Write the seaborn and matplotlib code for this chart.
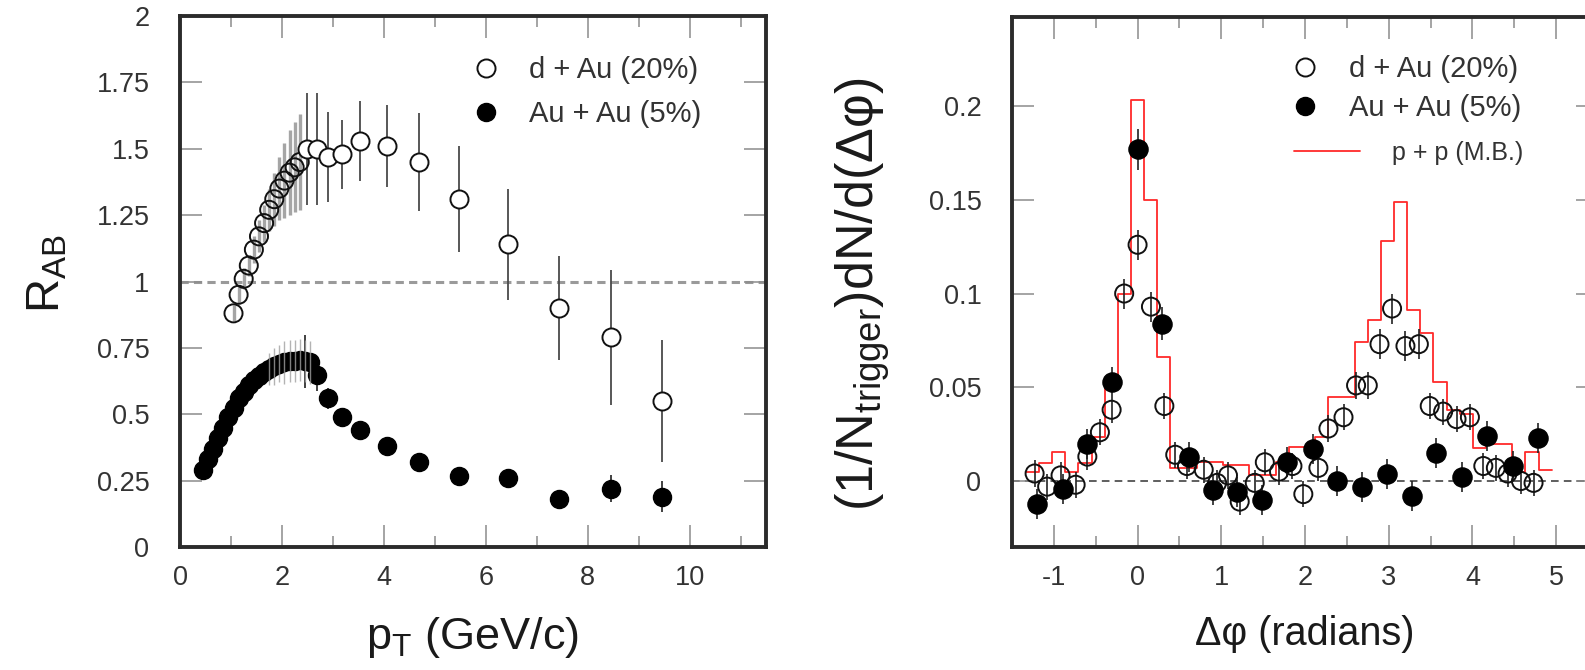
import numpy as np
import matplotlib
matplotlib.use("Agg")
import matplotlib.pyplot as plt
import seaborn as sns
from matplotlib.lines import Line2D
from matplotlib.ticker import MultipleLocator, FuncFormatter

# ---------------- left panel: R_AB vs pT ----------------
dau_pt_low = [1.05, 1.15, 1.25, 1.35, 1.45, 1.55, 1.65, 1.75, 1.85, 1.95, 2.05, 2.15, 2.25, 2.35]
dau_r_low = [0.88, 0.95, 1.01, 1.06, 1.12, 1.17, 1.22, 1.27, 1.31, 1.35, 1.38, 1.41, 1.43, 1.45]
dau_sys_low = [0.03, 0.03, 0.04, 0.04, 0.05, 0.06, 0.07, 0.08, 0.10, 0.12, 0.14, 0.16, 0.17, 0.18]

dau_pt_high = [2.50, 2.68, 2.91, 3.17, 3.54, 4.06, 4.70, 5.48, 6.43, 7.44, 8.46, 9.46]
dau_r_high = [1.50, 1.50, 1.47, 1.48, 1.53, 1.51, 1.45, 1.31, 1.14, 0.90, 0.79, 0.55]
dau_err_high = [0.21, 0.21, 0.17, 0.13, 0.15, 0.155, 0.185, 0.20, 0.21, 0.195, 0.255, 0.23]

auau_pt_low = [0.45, 0.55, 0.65, 0.75, 0.85, 0.95, 1.05, 1.15, 1.25, 1.35, 1.45,
               1.55, 1.65, 1.75, 1.85, 1.95, 2.05, 2.15, 2.25, 2.35, 2.45, 2.55]
auau_r_low = [0.29, 0.33, 0.37, 0.41, 0.45, 0.49, 0.525, 0.56, 0.585, 0.61, 0.63,
              0.645, 0.66, 0.67, 0.68, 0.69, 0.695, 0.70, 0.70, 0.705, 0.70, 0.695]
auau_err_low = [0.01, 0.01, 0.01, 0.01, 0.01, 0.01, 0.01, 0.01, 0.01, 0.01, 0.01,
                0.01, 0.01, 0.01, 0.01, 0.01, 0.01, 0.01, 0.01, 0.02, 0.10, 0.03]
auau_sys_low = [0.0, 0.0, 0.0, 0.0, 0.0, 0.0, 0.0, 0.0, 0.0, 0.0, 0.0,
                0.0, 0.0, 0.06, 0.07, 0.07, 0.08, 0.08, 0.08, 0.08, 0.08, 0.08]

auau_pt_high = [2.68, 2.91, 3.17, 3.54, 4.06, 4.70, 5.48, 6.43, 7.44, 8.46, 9.46]
auau_r_high = [0.648, 0.56, 0.49, 0.44, 0.38, 0.32, 0.267, 0.26, 0.18, 0.22, 0.19]
auau_err_high = [0.06, 0.04, 0.03, 0.02, 0.02, 0.02, 0.02, 0.02, 0.02, 0.05, 0.057]

left_yticks = [0, 0.25, 0.5, 0.75, 1, 1.25, 1.5, 1.75, 2]

# ---------------- right panel: dN/d(dphi) ----------------
dau_dphi = [-1.23, -1.08, -0.92, -0.74, -0.60, -0.45, -0.31, -0.16, 0.00, 0.16,
            0.32, 0.45, 0.59, 0.79, 0.95, 1.08, 1.22, 1.40, 1.52, 1.69,
            1.85, 1.98, 2.16, 2.28, 2.46, 2.61, 2.75, 2.89, 3.04, 3.20,
            3.36, 3.49, 3.65, 3.81, 3.97, 4.13, 4.28, 4.42, 4.58, 4.73]
dau_yield = [0.004, -0.003, 0.003, -0.002, 0.013, 0.026, 0.038, 0.100, 0.126, 0.093,
             0.040, 0.014, 0.008, 0.006, -0.001, 0.003, -0.011, -0.001, 0.010, 0.005,
             0.008, -0.007, 0.007, 0.028, 0.034, 0.051, 0.051, 0.073, 0.092, 0.072,
             0.073, 0.040, 0.037, 0.033, 0.034, 0.008, 0.007, 0.004, 0.000, -0.001]
dau_yerr = [0.007, 0.007, 0.007, 0.007, 0.007, 0.007, 0.007, 0.008, 0.008, 0.008,
            0.007, 0.007, 0.007, 0.007, 0.007, 0.007, 0.007, 0.007, 0.007, 0.007,
            0.007, 0.007, 0.007, 0.007, 0.007, 0.007, 0.007, 0.008, 0.008, 0.008,
            0.008, 0.007, 0.007, 0.007, 0.007, 0.007, 0.007, 0.007, 0.007, 0.007]

auau_dphi = [-1.20, -0.89, -0.60, -0.31, 0.00, 0.29, 0.61, 0.90, 1.19, 1.49, 1.78,
             2.09, 2.38, 2.68, 2.98, 3.28, 3.57, 3.88, 4.18, 4.48, 4.78]
auau_yield = [-0.012, -0.004, 0.020, 0.053, 0.177, 0.084, 0.013, -0.005, -0.006, -0.010, 0.010,
              0.017, 0.000, -0.003, 0.004, -0.008, 0.015, 0.002, 0.024, 0.008, 0.023]
auau_yerr = [0.008, 0.008, 0.008, 0.008, 0.011, 0.009, 0.008, 0.008, 0.008, 0.008, 0.008,
             0.008, 0.008, 0.008, 0.008, 0.008, 0.008, 0.008, 0.008, 0.008, 0.008]

pp_dphi = [-1.257, -1.100, -0.942, -0.785, -0.628, -0.471, -0.314, -0.157, 0.000, 0.157,
           0.314, 0.471, 0.628, 0.785, 0.942, 1.100, 1.257, 1.414, 1.571, 1.728,
           1.885, 2.042, 2.199, 2.356, 2.513, 2.670, 2.827, 2.985, 3.142, 3.299,
           3.456, 3.613, 3.770, 3.927, 4.084, 4.241, 4.398, 4.555, 4.712, 4.869]
pp_yield = [0.005, 0.0098, 0.0156, 0.005, 0.0098, 0.0236, 0.053, 0.100, 0.203, 0.150,
            0.066, 0.0068, 0.0068, 0.0101, 0.0101, 0.0085, 0.0085, 0.0032, 0.0032, 0.0101,
            0.0183, 0.0183, 0.0236, 0.045, 0.045, 0.0743, 0.0859, 0.128, 0.149, 0.091,
            0.079, 0.053, 0.038, 0.036, 0.0176, 0.020, 0.020, 0.005, 0.0156, 0.006]

labels_main = ["d + Au (20%)", "Au + Au (5%)"]
label_pp = "p + p (M.B.)"

# ---------------- style ----------------
sns.set_theme(style="white")
plt.rcParams["font.family"] = ["Liberation Sans", "DejaVu Sans"]
plt.rcParams["mathtext.fontset"] = "custom"
plt.rcParams["mathtext.rm"] = "Liberation Sans"
plt.rcParams["mathtext.it"] = "Liberation Sans:italic"
plt.rcParams["mathtext.bf"] = "Liberation Sans:bold"
plt.rcParams["mathtext.default"] = "regular"
plt.rcParams["axes.unicode_minus"] = False

W, H = 1585, 670
fig = plt.figure(figsize=(W / 100, H / 100), dpi=100)


def px_axes(left, top, right, bottom):
    return fig.add_axes([left / W, 1 - bottom / H, (right - left) / W, (bottom - top) / H])


axL = px_axes(180, 16, 766, 547)
axR = px_axes(1012, 17, 1598, 547)

SPINE = "#2b2b2b"
TICKC = "#8c8c8c"
LABC = "#333333"
TXT = "#1a1a1a"
fmt = FuncFormatter(lambda v, _: f"{v:g}")

# ---------------- left panel ----------------
axL.axhline(1.0, color="#9a9a9a", lw=2.2, ls=(0, (2.7, 1.7)), zorder=0.5)
axL.errorbar(dau_pt_low, dau_r_low, yerr=dau_sys_low, fmt="none", ecolor="#a5a5a5",
             elinewidth=2.4, zorder=1)
axL.errorbar(dau_pt_high, dau_r_high, yerr=dau_err_high, fmt="none", ecolor="#4a4a4a",
             elinewidth=1.3, zorder=1.5)
axL.errorbar(auau_pt_high, auau_r_high, yerr=auau_err_high, fmt="none", ecolor="#333333",
             elinewidth=1.3, zorder=1.5)
axL.errorbar(auau_pt_low, auau_r_low, yerr=auau_err_low, fmt="none", ecolor="#333333",
             elinewidth=1.3, zorder=1.5)

sns.scatterplot(x=dau_pt_low, y=dau_r_low, ax=axL, marker="o", s=169,
                facecolors="none", edgecolor="#111111", linewidth=1.4, zorder=3)
sns.scatterplot(x=dau_pt_high, y=dau_r_high, ax=axL, marker="o", s=169,
                facecolors="white", edgecolor="#111111", linewidth=1.4, zorder=3)
sns.scatterplot(x=auau_pt_low, y=auau_r_low, ax=axL, marker="o", s=169,
                color="black", edgecolor="black", linewidth=1.0, zorder=4)
sns.scatterplot(x=auau_pt_high, y=auau_r_high, ax=axL, marker="o", s=169,
                color="black", edgecolor="black", linewidth=1.0, zorder=4)
axL.errorbar(auau_pt_low, auau_r_low, yerr=auau_sys_low, fmt="none", ecolor="#a0a0a0",
             elinewidth=1.0, zorder=5, alpha=0.8)

axL.set_xlim(0, 11.5)
axL.set_ylim(0, 2)
axL.xaxis.set_major_locator(MultipleLocator(2))
axL.xaxis.set_minor_locator(MultipleLocator(1))
axL.set_yticks(left_yticks)
axL.yaxis.set_major_formatter(fmt)
axL.xaxis.set_major_formatter(fmt)

# ---------------- right panel ----------------
pp_c = np.asarray(pp_dphi)
half = (pp_c[1] - pp_c[0]) / 2
pp_edges = np.concatenate([[pp_c[0] - half], (pp_c[1:] + pp_c[:-1]) / 2, [pp_c[-1] + half]])
pp_edges = [float(e) for e in pp_edges]

axR.axhline(0.0, color="#333333", lw=1.1, ls=(0, (5, 3.4)), zorder=0.5)
sns.histplot(x=pp_dphi, weights=pp_yield, bins=pp_edges, element="step", fill=False,
             color="#ff2a2a", linewidth=1.3, ax=axR, zorder=1)
axR.errorbar(dau_dphi, dau_yield, yerr=dau_yerr, fmt="none", ecolor="#222222",
             elinewidth=1.2, zorder=2)
axR.errorbar(auau_dphi, auau_yield, yerr=auau_yerr, fmt="none", ecolor="#222222",
             elinewidth=1.2, zorder=2)
sns.scatterplot(x=dau_dphi, y=dau_yield, ax=axR, marker="o", s=169,
                facecolors="none", edgecolor="#111111", linewidth=1.4, zorder=3)
sns.scatterplot(x=auau_dphi, y=auau_yield, ax=axR, marker="o", s=190,
                color="black", edgecolor="black", linewidth=1.0, zorder=4)

axR.set_xlim(-1.5, 5.5)
axR.set_ylim(-0.0352, 0.2475)
axR.xaxis.set_major_locator(MultipleLocator(1))
axR.xaxis.set_minor_locator(MultipleLocator(0.5))
axR.yaxis.set_major_locator(MultipleLocator(0.05))
axR.yaxis.set_major_formatter(fmt)
axR.xaxis.set_major_formatter(fmt)

# ---------------- axes styling ----------------
for ax in (axL, axR):
    for s in ax.spines.values():
        s.set_visible(True)
        s.set_linewidth(2.8)
        s.set_color(SPINE)
        s.set_zorder(6)
    ax.tick_params(which="both", direction="in", top=True, right=True, bottom=True,
                   left=True, color=TICKC, width=1.1, labelsize=19.5, labelcolor=LABC)
    ax.tick_params(which="major", length=16)
    ax.tick_params(which="minor", length=8)
    ax.tick_params(axis="y", which="both", pad=22)
    ax.tick_params(axis="x", which="both", pad=13)

axL.set_xlabel(r"p$_{\mathrm{T}}$ (GeV/c)", fontsize=32.5, color=TXT)
axL.xaxis.set_label_coords(0.5, -0.128)
axL.set_ylabel(r"R$_{\mathrm{AB}}$", fontsize=34, color=TXT)
axL.yaxis.set_label_coords(-0.188, 0.515)

axR.set_xlabel("Δφ (radians)", fontsize=28.5, color=TXT)
axR.xaxis.set_label_coords(0.5, -0.128)
axR.set_ylabel(r"(1/N$_{\mathrm{trigger}}$)dN/d(Δφ)", fontsize=37.5, color=TXT)
axR.yaxis.set_label_coords(-0.205, 0.477)

# ---------------- legends ----------------
h_open = Line2D([], [], ls="none", marker="o", ms=13, mfc="white", mec="#111111", mew=1.4)
h_fill = Line2D([], [], ls="none", marker="o", ms=13, mfc="black", mec="black", mew=1.0)
h_pp = Line2D([], [], color="#ff2a2a", lw=1.3)

legL = axL.legend(handles=[h_open, h_fill], labels=labels_main, loc="center left",
                  bbox_to_anchor=(471.5 / W, 1 - 92 / H), bbox_transform=fig.transFigure,
                  frameon=False, fontsize=21, handlelength=1.0, handletextpad=0.98,
                  labelspacing=0.55, borderpad=0, borderaxespad=0)
for t in legL.get_texts():
    t.set_color(LABC)

legA = axR.legend(handles=[h_open, h_fill], labels=labels_main, loc="center left",
                  bbox_to_anchor=(1290.5 / W, 1 - 88.5 / H), bbox_transform=fig.transFigure,
                  frameon=False, fontsize=21, handlelength=1.0, handletextpad=1.0,
                  labelspacing=0.36, borderpad=0, borderaxespad=0)
for t in legA.get_texts():
    t.set_color(LABC)
axR.add_artist(legA)
legB = axR.legend(handles=[h_pp], labels=[label_pp], loc="center left",
                  bbox_to_anchor=(1294 / W, 1 - 153 / H), bbox_transform=fig.transFigure,
                  frameon=False, fontsize=18, handlelength=2.64, handletextpad=1.28,
                  borderpad=0, borderaxespad=0)
for t in legB.get_texts():
    t.set_color(LABC)

fig.savefig("out.png", dpi=100)
